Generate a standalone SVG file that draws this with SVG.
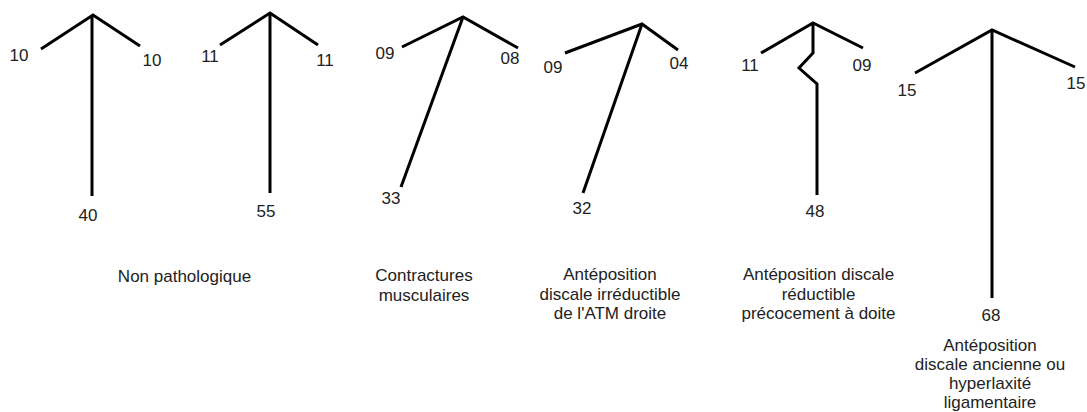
<svg xmlns="http://www.w3.org/2000/svg" width="1087" height="412" viewBox="0 0 1087 412">
<style>
.ln{fill:none;stroke:#000;stroke-width:3;stroke-linejoin:miter;stroke-linecap:butt}
.t{font-family:"Liberation Sans",Arial,sans-serif;font-size:17px;fill:#222;text-anchor:middle}
</style>
<rect width="1087" height="412" fill="#fff"/>
<g id="fig1">
<polyline class="ln" points="41,49 93,15 140,46"/>
<line class="ln" x1="92" y1="15" x2="92" y2="196"/>
<text class="t" x="19" y="61">10</text>
<text class="t" x="152" y="66">10</text>
<text class="t" x="88" y="221">40</text>
</g>
<g id="fig2">
<polyline class="ln" points="220,45 270,13 318,45"/>
<line class="ln" x1="270" y1="13" x2="270" y2="193"/>
<text class="t" x="210" y="62">11</text>
<text class="t" x="325" y="66">11</text>
<text class="t" x="266" y="217">55</text>
</g>
<g id="fig3">
<polyline class="ln" points="402,47 463,17 518,48"/>
<line class="ln" x1="463" y1="17" x2="401" y2="187"/>
<text class="t" x="385" y="59">09</text>
<text class="t" x="510" y="64">08</text>
<text class="t" x="391" y="204">33</text>
</g>
<g id="fig4">
<polyline class="ln" points="565,53 642,24 678,50"/>
<line class="ln" x1="642" y1="24" x2="583" y2="193"/>
<text class="t" x="553" y="73">09</text>
<text class="t" x="679" y="69">04</text>
<text class="t" x="582" y="214">32</text>
</g>
<g id="fig5">
<polyline class="ln" points="761,53 813,23 863,48"/>
<polyline class="ln" points="813,23 813,53 799,68 817,84 817,195"/>
<text class="t" x="750" y="71">11</text>
<text class="t" x="862" y="71">09</text>
<text class="t" x="815" y="217">48</text>
</g>
<g id="fig6">
<polyline class="ln" points="915,73 992,30 1075,67"/>
<line class="ln" x1="992" y1="30" x2="992" y2="298"/>
<text class="t" x="907" y="96">15</text>
<text class="t" x="1076" y="89">15</text>
<text class="t" x="991" y="321">68</text>
</g>
<g id="captions">
<text class="t" x="184.5" y="282">Non pathologique</text>
<text class="t" x="424" y="281">Contractures</text>
<text class="t" x="424" y="300.5">musculaires</text>
<text class="t" x="610" y="280">Antéposition</text>
<text class="t" x="610" y="299.5">discale irréductible</text>
<text class="t" x="610" y="319">de l'ATM droite</text>
<text class="t" x="818.5" y="280">Antéposition discale</text>
<text class="t" x="818.5" y="299.5">réductible</text>
<text class="t" x="818.5" y="319">précocement à doite</text>
<text class="t" x="990" y="351">Antéposition</text>
<text class="t" x="990" y="370">discale ancienne ou</text>
<text class="t" x="990" y="389">hyperlaxité</text>
<text class="t" x="990" y="408">ligamentaire</text>
</g>
</svg>
